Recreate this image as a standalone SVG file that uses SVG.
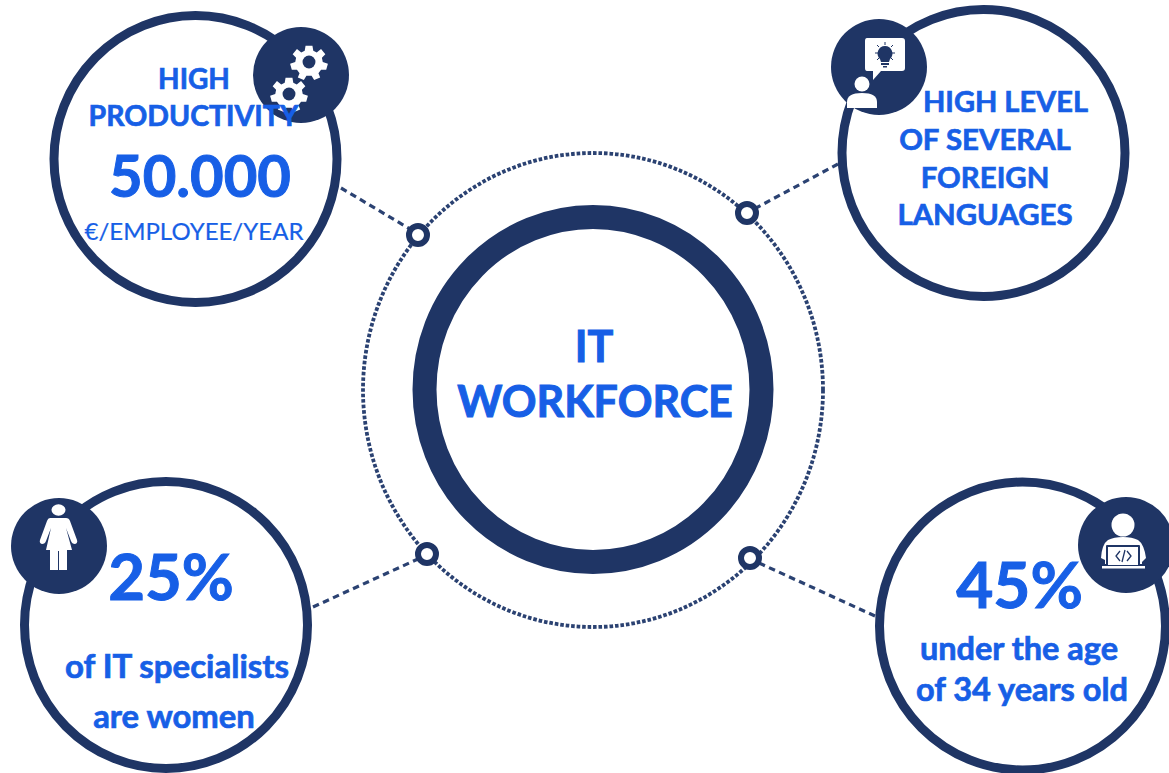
<svg xmlns="http://www.w3.org/2000/svg" width="1169" height="773" viewBox="0 0 1169 773">
<style>
.ring{fill:#fff;stroke:#1f3565;stroke-width:9}
.badge{fill:#1f3565}
.ico{fill:#fff}
.dk{fill:#1f3565}
.dash{fill:none;stroke:#2b4272;stroke-width:3.2;stroke-dasharray:6.500 4.500}
.dot{fill:none;stroke:#2b4272;stroke-width:3.8;stroke-dasharray:3.600 1.900}
.hub{fill:#fff;stroke:#1f3565;stroke-width:6}
text{font-family:Lato,"Open Sans","Liberation Sans",sans-serif;fill:#175fe6;text-anchor:middle;font-weight:700;stroke:#175fe6;stroke-width:.7}
.reg{font-weight:400;stroke-width:.2}
.big{stroke-width:1}
</style>
<defs>
<g id="gear"><path class="ico" d="M-4-19H4L5-13 9-11 14-15 19-9 15-5 16 0 22 2 20 9 14 9 11 13 13 18 6 21 3 16H-3L-6 21-13 18-11 13-14 9-20 9-22 2-16 0-15-5-19-9-14-15-9-11-5-13Z"/><circle class="dk" r="7.500"/></g>
</defs>
<g id="connectors">
<ellipse class="dot" cx="593" cy="390" rx="230" ry="237"/>
<path class="dash" d="M341 188L410 229"/>
<path class="dash" d="M838 164L756 208"/>
<path class="dash" d="M313 607L418 559"/>
<path class="dash" d="M875 616L759 563"/>
</g>
<g id="hub-tl"><circle class="hub" cx="418" cy="235" r="9"/></g>
<g id="hub-tr"><circle class="hub" cx="747" cy="213" r="9"/></g>
<g id="hub-bl"><circle class="hub" cx="427" cy="554" r="9"/></g>
<g id="hub-br"><circle class="hub" cx="750" cy="558" r="9"/></g>
<g id="center">
<ellipse cx="593" cy="389.500" rx="168.500" ry="172.500" fill="#fff" stroke="#1f3565" stroke-width="24"/>
<text class="big" x="594" y="362" font-size="43">IT</text>
<text class="big" x="595" y="417" font-size="43">WORKFORCE</text>
</g>
<g id="node-productivity">
<ellipse class="ring" cx="195.500" cy="159" rx="141.500" ry="143.500"/>
<circle class="badge" cx="301" cy="75" r="48"/>
<use href="#gear" transform="translate(309 62) scale(.86)"/>
<use href="#gear" transform="translate(289 94) scale(.86)"/>
<text x="194" y="89" font-size="28">HIGH</text>
<text x="193.500" y="126" font-size="28.500">PRODUCTIVITY</text>
<text class="big" x="200" y="197" font-size="58">50.000</text>
<text class="reg" x="194" y="240" font-size="24">€/EMPLOYEE/YEAR</text>
</g>
<g id="node-languages">
<ellipse class="ring" cx="983.500" cy="153" rx="141.500" ry="143.500"/>
<circle class="badge" cx="879" cy="67" r="48"/>
<path class="ico" d="M867 38H902Q905 38 905 41V68Q905 71 902 71H881L873 80V71H867Q865 71 865 68V41Q865 38 867 38Z"/>
<path class="dk" d="M885 46a7.500 7.500 0 0 1 5 13l-1 3h-8l-1-3a7.500 7.500 0 0 1 5-13ZM881 63h8v2h-8ZM883 66h4v1.500h-4Z"/>
<path d="M885 42v3M875 53h3M892 53h3M877 45l2 2M893 45l-2 2M877 60l2-2M893 60l-2-2" stroke="#1f3565" stroke-width="1" fill="none"/>
<circle class="ico" cx="862" cy="84" r="7.500"/>
<path class="ico" d="M847 108V102Q847 93 862 93Q877 93 877 102V108Z"/>
<text x="1005.500" y="112" font-size="29">HIGH LEVEL</text>
<text x="985" y="150" font-size="29.400">OF SEVERAL</text>
<text x="985" y="188" font-size="29.400">FOREIGN</text>
<text x="985" y="225" font-size="29.400">LANGUAGES</text>
</g>
<g id="node-women">
<ellipse class="ring" cx="166" cy="625" rx="141.500" ry="143.500"/>
<circle class="badge" cx="59" cy="546" r="48"/>
<ellipse class="ico" cx="58.500" cy="510" rx="7" ry="5.800"/>
<path class="ico" d="M50 518H66Q69 518 70 521L77 540Q78 543 75 544 72 544 71 541L66 528 72 550H67V570H59V551H58V570H50V550H46L51 528 46 541Q45 544 42 544 39 543 40 540L47 521Q48 518 50 518Z"/>
<text class="big" x="171" y="600" font-size="63.500">25%</text>
<text x="177" y="678" font-size="33">of IT specialists</text>
<text x="174" y="728" font-size="32.800">are women</text>
</g>
<g id="node-age">
<ellipse class="ring" cx="1022.500" cy="626" rx="143" ry="144"/>
<circle class="badge" cx="1126" cy="545" r="48"/>
<circle class="ico" cx="1123" cy="525" r="11.500"/>
<path class="ico" d="M1105 560L1101 558Q1102 544 1108 540Q1114 537 1123 537Q1132 537 1138 540Q1144 544 1146 558L1142 562V564H1105Z"/>
<path class="dk" d="M1107 545H1139Q1140 545 1140 546V565H1106V546Q1106 545 1107 545Z"/>
<path class="ico" d="M1108 547H1138V565H1108Z"/>
<rect class="ico" x="1102" y="566" width="43" height="2.500"/>
<path d="M1120 551L1116 556 1120 561M1127 551L1131 556 1127 561M1125 550L1122 562" fill="none" stroke="#1f3565" stroke-width="1.300"/>
<text class="big" x="1019.500" y="608" font-size="64">45%</text>
<text x="1019" y="660" font-size="32.500">under the age</text>
<text x="1022" y="701" font-size="32.500">of 34 years old</text>
</g>
</svg>
